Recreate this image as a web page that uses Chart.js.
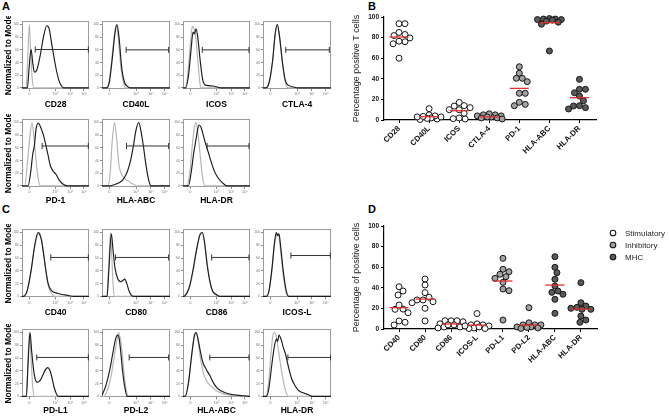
<!DOCTYPE html>
<html>
<head>
<meta charset="utf-8">
<script src="https://cdn.jsdelivr.net/npm/chart.js@4.4.1/dist/chart.umd.min.js"></script>
<style>
  body { margin: 0; background: #fff; }
  #page { position: relative; width: 669px; height: 418px; overflow: hidden; font-family: "Liberation Sans", Arial, sans-serif; }
  #page canvas { position: absolute; }
  .letter { position: absolute; font-weight: bold; font-size: 11px; line-height: 11px; }
</style>
</head>
<body>
<div id="page">
  <div class="letter" style="left:2px;top:1px">A</div>
  <div class="letter" style="left:368px;top:1px">B</div>
  <div class="letter" style="left:2px;top:204px">C</div>
  <div class="letter" style="left:368px;top:204px">D</div>
</div>
<script>
Chart.defaults.font.family = '"Liberation Sans", Arial, sans-serif';
Chart.defaults.color = '#000';

// ---------- flow histograms: [x, y], x = position on display axis (%), y = % of mode ----------
const fluorTickPos = [11, 50, 72, 92.5];
const fluorTickText = ['0', '10³', '10⁴', '10⁵'];
const modeTicks = [0, 20, 40, 60, 80, 100];

const cd28Iso = [[0,0],[6,0],[8.5,45],[11,100],[13,55],[15.5,12],[17.5,0],[100,0]];
const cd28Stain = [[0,0],[8,0],[10.5,30],[13.5,61],[16,40],[18.5,25],[22,28],[27,50],[32,80],[37,98],[40,95],[45,65],[50,35],[55,12],[59,3],[62,0],[100,0]];
const cd40lIso = [[0,0],[6,0],[10,8],[14,42],[18,82],[21,100],[24,78],[28,30],[32,6],[35,0],[100,0]];
const cd40lStain = [[0,0],[7,0],[11,10],[15,45],[19,85],[22,100],[25,80],[29,32],[33,9],[37,3],[42,0],[100,0]];
const icosIso = [[0,0],[3,0],[7,20],[11,70],[14,97],[16,95],[19,80],[22,45],[25,10],[27,0],[100,0]];
const icosStain = [[0,0],[4,0],[8,18],[12,60],[15,88],[17,85],[19.5,93],[22,80],[26,40],[30,10],[35,4],[45,3],[52,1],[56,0],[100,0]];
const ctla4Iso = [[0,0],[4,0],[9,8],[14,40],[18,85],[21,100],[24,82],[29,35],[33,8],[37,0],[100,0]];
const ctla4Stain = [[0,0],[4,0],[9,9],[14,42],[18,86],[21,100],[24,84],[29,37],[33,11],[38,4],[45,1.5],[51,0],[100,0]];
const pd1Iso = [[0,0],[4,0],[8,35],[12,80],[15,100],[18,75],[21,40],[24,12],[28,0],[100,0]];
const pd1Stain = [[0,0],[9,0],[13,22],[16,50],[18.5,64],[21,90],[24.5,99],[28,92],[32,80],[35,67],[39,48],[42,33],[46,24],[51,18],[55,10],[61,3],[68,0],[100,0]];
const hlaAbcTIso = [[0,0],[9,0],[12,20],[15,70],[18.4,100],[21,80],[25,33],[29,18],[32,13],[36,9],[39,8],[43,4],[46,3],[51,0],[100,0]];
const hlaAbcTStain = [[0,0],[11,0],[18,2],[25,5],[31,10],[37,22],[42,40],[46,62],[50,88],[54,100],[57,88],[61,62],[64,38],[67,18],[70,4],[72,0],[100,0]];
const hlaDrTIso = [[0,0],[5.5,0],[10,20],[14,65],[17,92],[19.5,100],[22,85],[26,45],[29,15],[33,0],[100,0]];
const hlaDrTStain = [[0,0],[8,0],[12,20],[16,52],[19.5,74],[22,90],[24,96],[27,92],[31,77],[35,62],[38,52],[42,38],[47,23],[51,15],[56,8],[61,3],[66,0],[100,0]];

const cd40Iso = [[0,0],[2,0],[8,10],[13.5,40],[19,78],[24,98],[26,100],[29,90],[32,70],[35,45],[39,18],[44,5],[49,0],[100,0]];
const cd40Stain = [[0,0],[2,0],[8,10],[13.5,40],[19,80],[24,100],[26,98],[29,88],[32,68],[35,45],[39,20],[44,9],[53,5],[60,3],[67,2],[77,0],[100,0]];
const cd80Iso = [[0,0],[7,0],[9.5,40],[12.4,100],[14.5,60],[16.5,15],[18.4,0],[100,0]];
const cd80Stain = [[0,0],[7.5,0],[10,40],[13.8,98],[16,75],[19,45],[23,28],[27.6,23],[30.5,25],[33.6,27],[36.5,20],[40,8],[43,2],[46,0],[100,0]];
const cd86Iso = [[0,0],[1,0],[6,5],[10,15],[15,38],[20,70],[25,95],[28.8,100],[32,85],[36,52],[40,25],[44,8],[49,2],[54,0],[100,0]];
const cd86Stain = [[0,0],[1,0],[6,6],[10,17],[15,42],[20,72],[25,96],[28.8,100],[32,86],[36,50],[40,24],[44,9],[50,3],[55,0],[100,0]];
const icoslIso = [[0,0],[5,0],[9,10],[13,40],[17,82],[20,97],[22,99],[25,80],[29,40],[33,10],[37,0],[100,0]];
const icoslStain = [[0,0],[5,0],[9,10],[13,42],[17,85],[19.5,100],[21.5,95],[23.5,98],[26,78],[30,38],[34,10],[38,0],[100,0]];
const pdl1Iso = [[0,0],[6.5,0],[8.5,45],[11,100],[13.5,60],[16,15],[18.4,0],[100,0]];
const pdl1Stain = [[0,0],[6.5,0],[9,50],[12,100],[14.5,70],[17.5,40],[20,26],[23,22],[27,25],[31,33],[35,42],[38.7,45],[42,40],[45,28],[48,14],[51,5],[54,0],[100,0]];
const pdl2Iso = [[0,0],[3,0],[8,10],[13,30],[18,62],[22,88],[24.4,100],[27,90],[30,65],[33,30],[36,8],[38,0],[100,0]];
const pdl2Stain = [[0,2],[1.4,5],[6,18],[11.5,42],[16,68],[20,90],[23,96],[25,92],[28,65],[30,42],[33,18],[37,0],[100,0]];
const hlaAbcCIso = [[0,0],[3,0],[8,20],[13,65],[17,95],[19.5,100],[22,90],[26,60],[30,38],[33.5,28],[38,20],[43,15],[51,8],[60,4],[70,2],[80,0],[100,0]];
const hlaAbcCStain = [[0,0],[3,0],[8,20],[13,65],[17,95],[19.5,100],[22,92],[26,70],[30,52],[33.5,45],[37,38],[40,33],[45,22],[51,13],[58,8],[65,5],[80,2],[90,1],[100,0]];
const hlaDrCIso = [[0,0],[4,0],[8,20],[12,70],[14.5,95],[16.4,100],[19,96],[23,70],[28,35],[33,10],[37.5,0],[100,0]];
const hlaDrCStain = [[0,0],[5,0],[9,15],[13,50],[17,80],[20,90],[21.5,86],[23.5,96],[27,88],[30,76],[33,67],[37,48],[42,28],[47,17],[51.6,10],[58,6],[65.7,3],[73,0],[100,0]];

// gate bars: [start, end, level]
const histRows = [
  [
    { label: 'CD28', iso: cd28Iso, stain: cd28Stain, gate: [19.8, 99, 60.6] },
    { label: 'CD40L', iso: cd40lIso, stain: cd40lStain, gate: [35.5, 98, 60] },
    { label: 'ICOS', iso: icosIso, stain: icosStain, gate: [28.8, 98.5, 60] },
    { label: 'CTLA-4', iso: ctla4Iso, stain: ctla4Stain, gate: [33.5, 97.5, 60] }
  ],
  [
    { label: 'PD-1', iso: pd1Iso, stain: pd1Stain, gate: [30, 99, 63] },
    { label: 'HLA-ABC', iso: hlaAbcTIso, stain: hlaAbcTStain, gate: [36, 98, 63] },
    { label: 'HLA-DR', iso: hlaDrTIso, stain: hlaDrTStain, gate: [36, 98.5, 63] }
  ],
  [
    { label: 'CD40', iso: cd40Iso, stain: cd40Stain, gate: [43, 99, 61] },
    { label: 'CD80', iso: cd80Iso, stain: cd80Stain, gate: [19.8, 98, 61] },
    { label: 'CD86', iso: cd86Iso, stain: cd86Stain, gate: [42.8, 98.5, 61] },
    { label: 'ICOS-L', iso: icoslIso, stain: icoslStain, gate: [41, 99, 64] }
  ],
  [
    { label: 'PD-L1', iso: pdl1Iso, stain: pdl1Stain, gate: [22, 99, 61] },
    { label: 'PD-L2', iso: pdl2Iso, stain: pdl2Stain, gate: [40, 98, 61] },
    { label: 'HLA-ABC', iso: hlaAbcCIso, stain: hlaAbcCStain, gate: [40, 98.5, 61] },
    { label: 'HLA-DR', iso: hlaDrCIso, stain: hlaDrCStain, gate: [36.6, 99.5, 61] }
  ]
];

// ---------- dot plots (% positive) ----------
const tCats = ['CD28', 'CD40L', 'ICOS', 'CTLA-4', 'PD-1', 'HLA-ABC', 'HLA-DR'];
const tGroups = ['Stimulatory', 'Stimulatory', 'Stimulatory', 'Inhibitory', 'Inhibitory', 'MHC', 'MHC'];
const tCd28 = [93.5, 93.5, 85, 82, 83, 79.7, 76, 74, 76.5, 60];
const tCd40l = [5, 11, 1, 0.5, 3, 4, 2, 3, 1.5, 3.5];
const tIcos = [13.5, 17, 14, 10, 10, 6.5, 2, 1, 1.3, 12];
const tCtla4 = [4, 5, 3, 6, 2, 5, 3, 1, 4, 2];
const tPd1 = [51.7, 45.4, 40.5, 40.5, 37.2, 25.9, 25.9, 17.2, 13.9, 15.2];
const tHlaAbc = [98.5, 98, 97.5, 98, 97, 97.5, 96, 95, 93, 67];
const tHlaDr = [39.5, 29.8, 29.8, 26.5, 23.3, 18.7, 13.6, 10.7, 12, 13.9];
const tMeans = [80.6, 3.2, 9, 3, 30.7, 94.5, 21.7];

const cCats = ['CD40', 'CD80', 'CD86', 'ICOS-L', 'PD-L1', 'PD-L2', 'HLA-ABC', 'HLA-DR'];
const cGroups = ['Stimulatory', 'Stimulatory', 'Stimulatory', 'Stimulatory', 'Inhibitory', 'Inhibitory', 'MHC', 'MHC'];
const cCd40 = [41, 36.9, 33, 23.3, 19.1, 19.3, 15.8, 7.8, 6.5, 3.9];
const cCd80 = [48.5, 42.7, 35.3, 28.2, 26.5, 28.2, 30.8, 20.1, 7.8, 25.5];
const cCd86 = [8, 7, 8, 8, 4, 5, 2, 1, 2, 4];
const cIcosl = [15, 5, 4, 4, 3, 1, 0.5, 0.5, 2, 3];
const cPdl1 = [68.6, 58, 55.6, 50.8, 53.1, 49.2, 45.3, 38.8, 37.2, 8.7];
const cPdl2 = [20.7, 6, 4, 2, 4, 4, 1, 0.5, 2, 1.5];
const cHlaAbc = [70.2, 59.9, 54.7, 48.3, 35.6, 33.7, 36.9, 28.8, 41.7, 15.2];
const cHlaDr = [45, 22.3, 21, 25.5, 19.1, 20.1, 19.1, 12.6, 8.7, 6.5];
const cMeans = [20.7, 29, 4.9, 3.8, 46.6, 3.9, 42.7, 19.4];

const groupFill = { Stimulatory: '#ffffff', Inhibitory: '#a2a2a2', MHC: '#5a5a5a' };

// ---------- layout ----------
const page = document.getElementById('page');
const colLeft = [22, 102, 183, 263];
const colWidth = [71, 72, 71, 72];
const rowTop = [17, 115, 225, 325];
const boxH = 72;
const labelGap = [16, 14, 15.5, 13.5];

const toXY = pts => pts.map(([x, y]) => ({ x, y }));

function addCanvas(left, top, w, h) {
  const c = document.createElement('canvas');
  c.width = w; c.height = h;
  c.style.left = left + 'px';
  c.style.top = top + 'px';
  page.appendChild(c);
  return c;
}

// grey frame round the histogram plot area
const frame = {
  id: 'frame',
  beforeDatasetsDraw(chart) {
    const { ctx, chartArea: a } = chart;
    ctx.save();
    ctx.strokeStyle = '#9c9c9c';
    ctx.lineWidth = 1;
    ctx.strokeRect(Math.round(a.left) + 0.5, Math.round(a.top) + 0.5, Math.round(a.width) - 1, Math.round(a.height) - 1);
    ctx.restore();
  }
};

// group legend drawn to the right of the plot area (only dot datasets have a label)
const sideLegend = {
  id: 'sideLegend',
  afterDraw(chart) {
    const { ctx, chartArea: a } = chart;
    const items = chart.data.datasets.filter(d => d.label);
    ctx.save();
    ctx.font = '8px "Liberation Sans", Arial, sans-serif';
    ctx.textBaseline = 'middle';
    items.forEach((d, i) => {
      const y = a.top + 7 + i * 12;
      ctx.beginPath();
      ctx.arc(a.right + 16, y, 2.8, 0, Math.PI * 2);
      ctx.fillStyle = d.backgroundColor;
      ctx.fill();
      ctx.lineWidth = 1.1;
      ctx.strokeStyle = '#151515';
      ctx.stroke();
      ctx.fillStyle = '#222';
      ctx.fillText(d.label, a.right + 28, y + 0.5);
    });
    ctx.restore();
  }
};

function makeHist(row, col, h) {
  const yW = col === 0 ? 22 : 9;
  const xH = labelGap[row] + 5.1;
  const w = colWidth[col];
  const c = addCanvas(colLeft[col] - yW, rowTop[row] - 1, yW + w + 1, Math.round(1 + boxH + xH));
  const curve = { pointRadius: 0, borderWidth: 1.15, cubicInterpolationMode: 'monotone', fill: false };
  new Chart(c, {
    type: 'line',
    data: {
      datasets: [
        {
          data: toXY([[h.gate[0], h.gate[2]], [h.gate[1], h.gate[2]]]),
          borderColor: '#333', borderWidth: 1, pointStyle: 'line', rotation: 90,
          pointRadius: 3, pointBorderColor: '#333', pointBorderWidth: 1
        },
        { ...curve, data: toXY(h.stain), borderColor: '#1c1c1c' },
        { ...curve, data: toXY(h.iso), borderColor: '#b4b4b4' }
      ]
    },
    options: {
      responsive: false, animation: false, devicePixelRatio: 1,
      layout: { padding: { top: 1, right: 1, left: 0, bottom: 0 } },
      plugins: { legend: { display: false }, tooltip: { enabled: false } },
      scales: {
        x: {
          type: 'linear', min: 0, max: 100,
          afterFit: s => { s.height = xH; },
          afterBuildTicks: s => { s.ticks = fluorTickPos.map(v => ({ value: v })); },
          ticks: { font: { size: 4 }, color: '#777', padding: 1, maxRotation: 0, autoSkip: false,
                   callback: (v, i) => fluorTickText[i] },
          grid: { drawOnChartArea: false, tickLength: 2, color: '#888' },
          border: { display: false },
          title: { display: true, text: h.label, font: { size: 8.5, weight: 'bold' }, padding: 0 }
        },
        y: {
          min: -1.5, max: 105.5,
          afterFit: s => { s.width = yW; },
          afterBuildTicks: s => { s.ticks = modeTicks.map(v => ({ value: v })); },
          ticks: { font: { size: 3.5 }, color: '#777', padding: 1, autoSkip: false },
          grid: { drawOnChartArea: false, tickLength: 2, color: '#888' },
          border: { display: false },
          title: { display: col === 0, text: 'Normalized to Mode', font: { size: 8.5, weight: 'bold' },
                   padding: { top: 4, bottom: 0 } }
        }
      }
    },
    plugins: [frame]
  });
}

histRows.forEach((r, ri) => r.forEach((h, ci) => makeHist(ri, ci, h)));

// simple beeswarm: horizontal offsets (category units) so the dots don't pile up
function swarm(values, pxX, pxY) {
  const placed = [];
  const out = new Array(values.length);
  const order = values.map((v, i) => i).sort((a, b) => values[b] - values[a]);
  for (const i of order) {
    const py = values[i] * pxY;
    let best = 0, bestD = -1;
    for (let k = 0; k <= 26; k++) {
      const dx = (k % 2 ? 1 : -1) * Math.ceil(k / 2);
      let minD = Infinity;
      for (const p of placed) minD = Math.min(minD, Math.hypot(dx - p[0], py - p[1]));
      if (minD >= 5.7) { best = dx; bestD = minD; break; }
      if (minD > bestD) { bestD = minD; best = dx; }
    }
    placed.push([best, py]);
    out[i] = best / pxX;
  }
  return out;
}

function makeDots(opt) {
  const c = addCanvas(opt.left, opt.top, opt.width, opt.height);
  const pxX = opt.pxX, pxY = opt.pxY;
  const groups = {};
  const means = [];
  opt.series.forEach((vals, i) => {
    const offs = swarm(vals, pxX, pxY);
    const g = opt.groups[i];
    (groups[g] = groups[g] || []).push(...vals.map((v, j) => ({ x: i + offs[j], y: v })));
    const half = 9.5 / pxX;
    means.push({
      data: [{ x: i - half, y: opt.means[i] }, { x: i + half, y: opt.means[i] }],
      showLine: true, borderColor: '#e0302c', borderWidth: 1.3, pointRadius: 0
    });
  });
  const dots = Object.keys(groups).map(g => ({
    label: g, data: groups[g], backgroundColor: groupFill[g], borderColor: '#151515',
    borderWidth: 1, pointRadius: 3, clip: false
  }));
  new Chart(c, {
    type: 'scatter',
    data: { datasets: [...means, ...dots] },
    options: {
      responsive: false, animation: false, devicePixelRatio: 1,
      layout: { padding: { top: opt.padTop, right: opt.padRight, left: 0, bottom: 0 } },
      plugins: { legend: { display: false }, tooltip: { enabled: false } },
      scales: {
        x: {
          type: 'linear', min: opt.xMin, max: opt.xMax,
          afterFit: s => { s.height = 48; },
          afterBuildTicks: s => { s.ticks = opt.cats.map((_, i) => ({ value: i })); },
          ticks: { font: { size: 7.8, weight: 'bold' }, color: '#111', padding: 1, autoSkip: false,
                   minRotation: 45, maxRotation: 45, callback: (v, i) => opt.cats[i] },
          grid: { drawOnChartArea: false, tickLength: 3, color: '#000', lineWidth: 1 },
          border: { color: '#000', width: 1.2 }
        },
        y: {
          min: 0, max: 100,
          afterFit: s => { s.width = 39; },
          ticks: { stepSize: 20, font: { size: 6.5, weight: 'bold' }, color: '#111', padding: 2 },
          grid: { drawOnChartArea: false, tickLength: 3, color: '#000', lineWidth: 1 },
          border: { color: '#000', width: 1.2 },
          title: { display: true, text: opt.yTitle, font: { size: 9 }, color: '#222', padding: { top: 6, bottom: 0 } }
        }
      }
    },
    plugins: opt.legend ? [sideLegend] : []
  });
}

makeDots({
  left: 345, top: 8, width: 256, height: 160, padTop: 9, padRight: 4,
  cats: tCats, groups: tGroups, means: tMeans,
  series: [tCd28, tCd40l, tIcos, tCtla4, tPd1, tHlaAbc, tHlaDr],
  xMin: -0.5, xMax: 6.55, pxX: 30.3, pxY: 1.03,
  yTitle: 'Percentage positive T cells'
});

makeDots({
  left: 345, top: 216, width: 324, height: 161, padTop: 10, padRight: 72, legend: true,
  cats: cCats, groups: cGroups, means: cMeans,
  series: [cCd40, cCd80, cCd86, cIcosl, cPdl1, cPdl2, cHlaAbc, cHlaDr],
  xMin: -0.58, xMax: 7.62, pxX: 26, pxY: 1.03,
  yTitle: 'Percentage of positive cells'
});
</script>
</body>
</html>
